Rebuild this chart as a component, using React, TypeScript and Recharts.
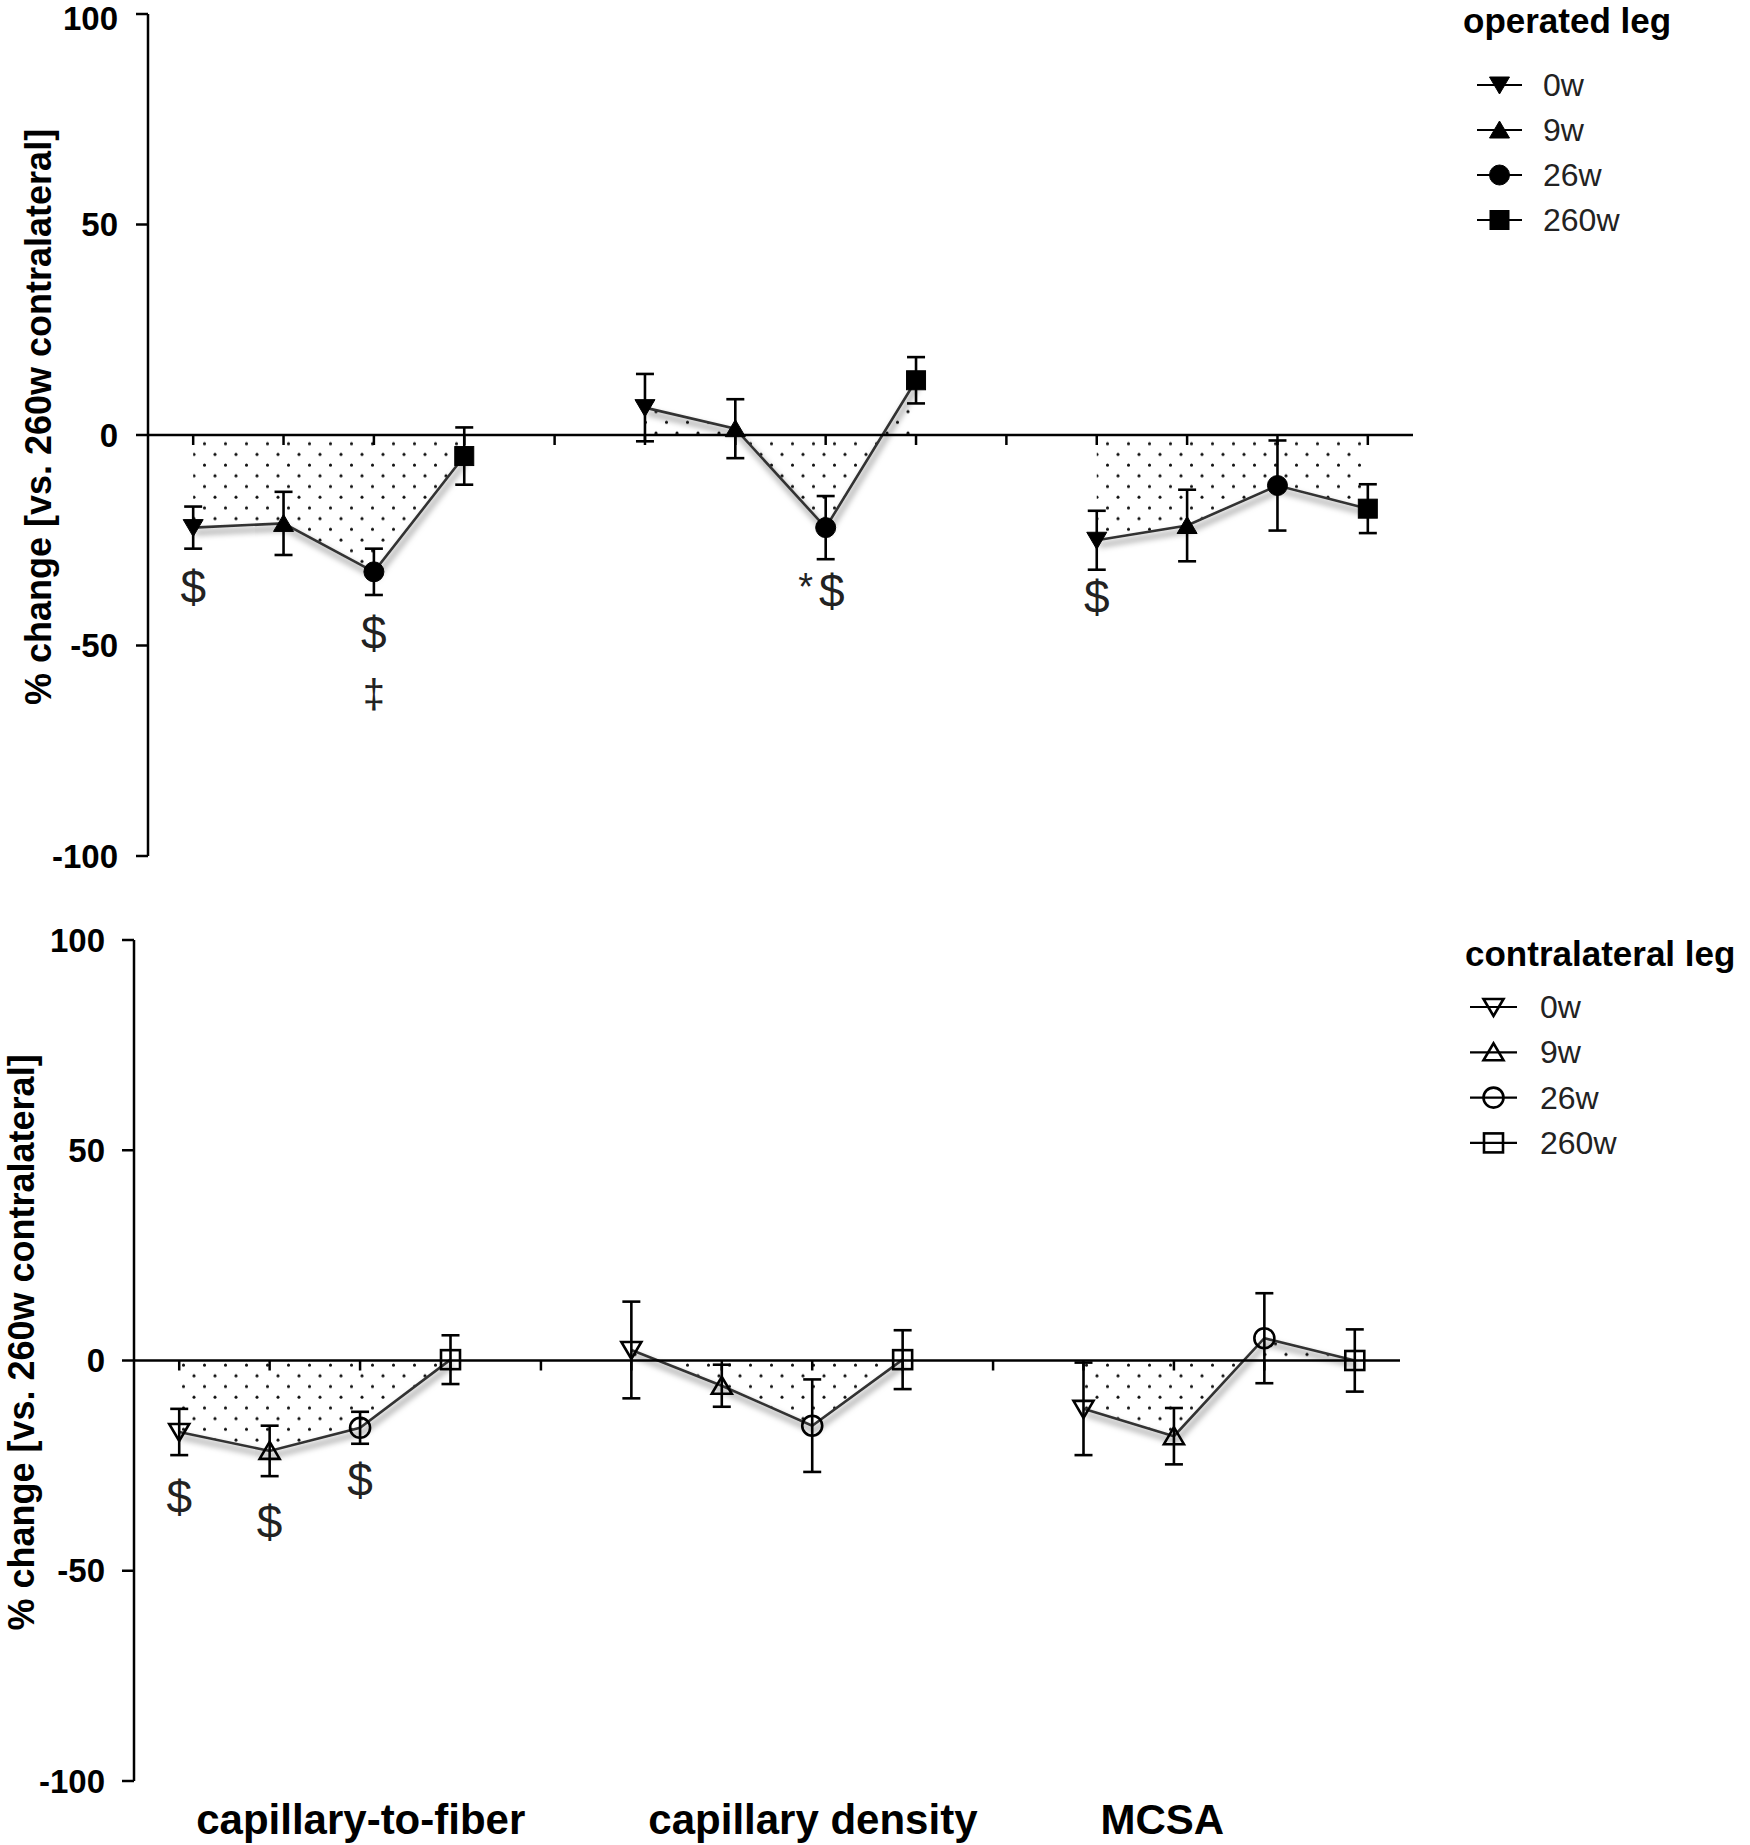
import React from "react";
import {
  ComposedChart,
  Area,
  Line,
  Scatter,
  ErrorBar,
  XAxis,
  YAxis,
  ReferenceLine,
  Label,
} from "recharts";

const groups = ["capillary-to-fiber", "capillary density", "MCSA"];
const weeks = ["0w", "9w", "26w", "260w"];
const yTicks = [-100, -50, 0, 50, 100];
const yTitle = "% change [vs. 260w contralateral]";

// % change vs. 260w contralateral, group by group, weeks in order 0w, 9w, 26w, 260w
const operatedMean = [-22, -21, -32.5, -5, 6.5, 1.5, -22, 13, -25, -21.5, -12, -17.5];
const operatedSem = [5, 7.5, 5.5, 6.8, 8, 7, 7.5, 5.5, 7, 8.5, 10.7, 5.8];
const contraMean = [-17, -21.5, -16, 0.2, 2.5, -6, -15.5, 0.2, -11.5, -18, 5.3, 0];
const contraSem = [5.5, 6, 3.8, 5.8, 11.5, 5, 11, 7, 11, 6.7, 10.7, 7.4];

// significance marks: point index (as in the arrays above), height, symbol
const operatedMarkAt = [0, 2, 2, 6, 8];
const operatedMarkY = [-36, -47, -61.5, -37, -38.5];
const operatedMarkText = ["$", "$", "‡", "*$", "$"];
const contraMarkAt = [0, 1, 2];
const contraMarkY = [-32.5, -38.5, -28.5];
const contraMarkText = ["$", "$", "$"];

const FONT = "'Liberation Sans', Arial, sans-serif";
const nSlots = groups.length * (weeks.length + 1) - 1;

const slot = (i: number) =>
  Math.floor(i / weeks.length) * (weeks.length + 1) + (i % weeks.length);

function Marker({ cx, cy, w, filled }: { cx: number; cy: number; w: number; filled: boolean }) {
  const p = {
    fill: filled ? "#000" : "none",
    stroke: "#000",
    strokeWidth: filled ? 1 : 2.6,
  };
  if (w === 0)
    return <polygon points={`${cx - 10},${cy - 8} ${cx + 10},${cy - 8} ${cx},${cy + 9}`} {...p} />;
  if (w === 1)
    return <polygon points={`${cx - 10},${cy + 8} ${cx + 10},${cy + 8} ${cx},${cy - 9}`} {...p} />;
  if (w === 2) return <circle cx={cx} cy={cy} r={10} {...p} />;
  return <rect x={cx - 9.5} y={cy - 9.5} width={19} height={19} {...p} />;
}

function tickShape(props: any) {
  const { cx, cy } = props;
  return <line x1={cx} y1={cy} x2={cx} y2={cy + 10} stroke="#000" strokeWidth={2.5} />;
}

function markShape(props: any) {
  const { cx, cy, payload } = props;
  const t: string = payload.t;
  if (t.length > 1) {
    return (
      <g fontFamily={FONT} fill="#222">
        <text x={cx - 20} y={cy - 4} fontSize={38} textAnchor="middle" dominantBaseline="central">
          {t.slice(0, -1)}
        </text>
        <text x={cx + 6} y={cy} fontSize={46} textAnchor="middle" dominantBaseline="central">
          {t.slice(-1)}
        </text>
      </g>
    );
  }
  return (
    <text
      x={cx}
      y={cy}
      fontSize={t === "‡" ? 40 : 46}
      fontFamily={FONT}
      fill="#222"
      textAnchor="middle"
      dominantBaseline="central"
    >
      {t}
    </text>
  );
}

interface PanelProps {
  id: string;
  means: number[];
  sems: number[];
  markAt: number[];
  markY: number[];
  markText: string[];
  filled: boolean;
  height: number;
  margin: { top: number; right: number; bottom: number; left: number };
  axisWidth: number;
  tickMargin: number;
  titleX: number;
  showCategories: boolean;
}

function Panel(p: PanelProps) {
  const pts = p.means.map((y, i) => ({ x: slot(i), y, e: p.sems[i], w: i % weeks.length }));
  const rows = Array.from({ length: nSlots }, (_, x) => ({ x, v: null as number | null }));
  p.means.forEach((y, i) => (rows[slot(i)].v = y));
  const tickRows = rows.map((r) => ({ x: r.x, y: 0 }));
  const marks = p.markAt.map((i, k) => ({ x: slot(i), y: p.markY[k], t: p.markText[k] }));

  return (
    <ComposedChart width={1750} height={p.height} data={rows} margin={p.margin}>
      <defs>
        <pattern id={`dots-${p.id}`} width={21} height={21.4} patternUnits="userSpaceOnUse">
          <circle cx={5} cy={5} r={1.5} fill="#111" />
          <circle cx={15.5} cy={15.7} r={1.5} fill="#111" />
        </pattern>
        <filter id={`shadow-${p.id}`} x="-10%" y="-50%" width="120%" height="200%">
          <feDropShadow dx={2} dy={5} stdDeviation={3} floodColor="#000" floodOpacity={0.6} />
        </filter>
      </defs>
      <XAxis
        dataKey="x"
        type="number"
        domain={[-0.5, nSlots - 0.5]}
        allowDataOverflow
        hide={!p.showCategories}
        ticks={groups.map((_, g) => g * (weeks.length + 1))}
        axisLine={false}
        tickLine={false}
        tickSize={0}
        tickMargin={0}
        height={64}
        interval={0}
        tick={(t: any) => (
          <text
            x={t.x + 17}
            y={t.y + 53}
            textAnchor="start"
            fontSize={42}
            fontWeight="bold"
            fontFamily={FONT}
            fill="#000"
          >
            {groups[Math.round(t.payload.value / (weeks.length + 1))]}
          </text>
        )}
      />
      <YAxis
        type="number"
        domain={[-100, 100]}
        allowDataOverflow
        ticks={yTicks}
        width={p.axisWidth}
        axisLine={{ stroke: "#000", strokeWidth: 2.5 }}
        tickLine={{ stroke: "#000", strokeWidth: 2.5 }}
        tickSize={12}
        tickMargin={p.tickMargin}
        tick={{ fill: "#000", fontSize: 33, fontWeight: "bold", fontFamily: FONT }}
      >
        <Label
          content={(lp: any) => {
            const vb = lp.viewBox;
            const cy = vb.y + vb.height / 2 - 18;
            return (
              <text
                transform={`translate(${p.titleX},${cy}) rotate(-90)`}
                textAnchor="middle"
                dominantBaseline="central"
                fontSize={36}
                fontWeight="bold"
                fontFamily={FONT}
                fill="#000"
              >
                {yTitle}
              </text>
            );
          }}
        />
      </YAxis>
      <Area
        dataKey="v"
        baseValue={0}
        fill={`url(#dots-${p.id})`}
        fillOpacity={1}
        stroke="none"
        isAnimationActive={false}
      />
      <Line
        dataKey="v"
        stroke="#333"
        strokeWidth={2.6}
        dot={false}
        activeDot={false}
        filter={`url(#shadow-${p.id})`}
        isAnimationActive={false}
      />
      <ReferenceLine y={0} stroke="#000" strokeWidth={2.5} />
      <Scatter data={tickRows} dataKey="y" shape={tickShape} isAnimationActive={false} />
      {weeks.map((wk, k) => (
        <Scatter
          key={wk}
          name={wk}
          data={pts.filter((d) => d.w === k)}
          dataKey="y"
          isAnimationActive={false}
          shape={(s: any) => <Marker cx={s.cx} cy={s.cy} w={k} filled={p.filled} />}
        >
          <ErrorBar dataKey="e" direction="y" width={9} stroke="#000" strokeWidth={2.6} />
        </Scatter>
      ))}
      <Scatter data={marks} dataKey="y" shape={markShape} isAnimationActive={false} />
    </ComposedChart>
  );
}

function LegendBlock(props: {
  title: string;
  filled: boolean;
  titleX: number;
  titleY: number;
  lineX1: number;
  lineX2: number;
  textX: number;
  rowY: number;
  rowGap: number;
}) {
  const mid = (props.lineX1 + props.lineX2) / 2;
  return (
    <g fontFamily={FONT} fill="#000">
      <text x={props.titleX} y={props.titleY} fontSize={35} fontWeight="bold">
        {props.title}
      </text>
      {weeks.map((wk, k) => {
        const y = props.rowY + k * props.rowGap;
        return (
          <g key={wk}>
            <line x1={props.lineX1} y1={y} x2={props.lineX2} y2={y} stroke="#000" strokeWidth={2.2} />
            <Marker cx={mid} cy={y} w={k} filled={props.filled} />
            <text x={props.textX} y={y + 11} fontSize={32} fill="#222">
              {wk}
            </text>
          </g>
        );
      })}
    </g>
  );
}

export default function App() {
  return (
    <div
      style={{
        position: "absolute",
        left: 0,
        top: 0,
        width: 1750,
        height: 1845,
        background: "#fff",
        fontFamily: FONT,
      }}
    >
      <div style={{ position: "absolute", left: 0, top: 0 }}>
        <Panel
          id="op"
          means={operatedMean}
          sems={operatedSem}
          markAt={operatedMarkAt}
          markY={operatedMarkY}
          markText={operatedMarkText}
          filled
          height={900}
          margin={{ top: 14, right: 337, bottom: 44, left: 0 }}
          axisWidth={148}
          tickMargin={18}
          titleX={38}
          showCategories={false}
        />
      </div>
      <div style={{ position: "absolute", left: 0, top: 900 }}>
        <Panel
          id="contra"
          means={contraMean}
          sems={contraSem}
          markAt={contraMarkAt}
          markY={contraMarkY}
          markText={contraMarkText}
          filled={false}
          height={945}
          margin={{ top: 40, right: 350, bottom: 0, left: 0 }}
          axisWidth={134}
          tickMargin={17}
          titleX={21}
          showCategories
        />
      </div>
      <svg
        width={1750}
        height={1845}
        style={{ position: "absolute", left: 0, top: 0, pointerEvents: "none" }}
      >
        <LegendBlock
          title="operated leg"
          filled
          titleX={1463}
          titleY={33}
          lineX1={1477}
          lineX2={1522}
          textX={1543}
          rowY={85}
          rowGap={45}
        />
        <LegendBlock
          title="contralateral leg"
          filled={false}
          titleX={1465}
          titleY={966}
          lineX1={1470}
          lineX2={1517}
          textX={1540}
          rowY={1007}
          rowGap={45.3}
        />
      </svg>
    </div>
  );
}
